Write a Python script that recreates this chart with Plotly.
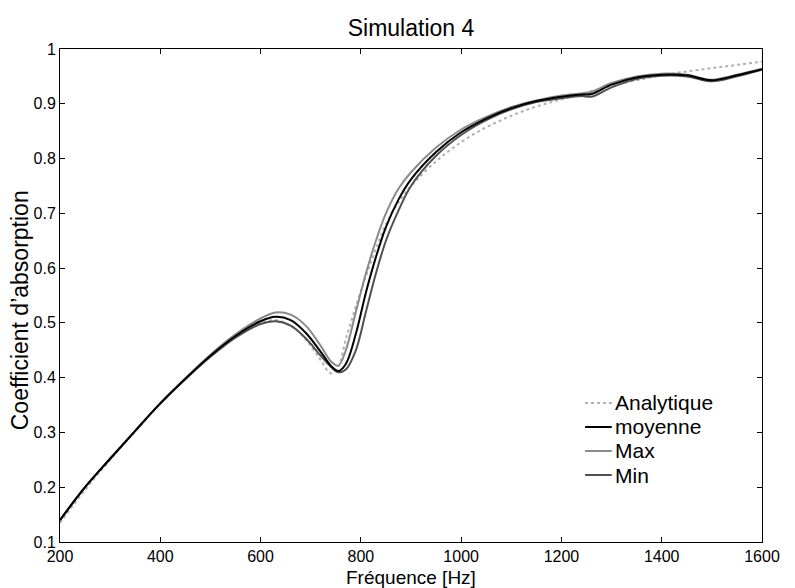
import plotly.graph_objects as go

freq = [200, 250, 300, 350, 400, 450, 500, 550, 600, 630, 660, 690, 720, 740, 755, 770, 790, 810, 830, 850,
        875, 900, 950, 1000, 1050, 1100, 1150, 1200, 1240, 1260, 1300, 1350, 1400, 1450, 1500, 1550, 1600]

analytique = [0.135, 0.195, 0.250, 0.302, 0.352, 0.398, 0.440, 0.475, 0.500, 0.505, 0.495, 0.470, 0.432, 0.408,
              0.420, 0.470, 0.530, 0.585, 0.635, 0.680, 0.720, 0.750, 0.795, 0.830, 0.857, 0.878, 0.895, 0.908,
              0.918, 0.923, 0.933, 0.943, 0.952, 0.959, 0.965, 0.971, 0.977]

moyenne = [0.140, 0.200, 0.252, 0.303, 0.353, 0.398, 0.440, 0.476, 0.503, 0.511, 0.505, 0.482, 0.447, 0.422,
           0.412, 0.425, 0.480, 0.555, 0.620, 0.675, 0.725, 0.762, 0.812, 0.848, 0.873, 0.892, 0.905, 0.913,
           0.917, 0.918, 0.935, 0.948, 0.953, 0.952, 0.943, 0.952, 0.963]

maxi = [0.140, 0.200, 0.252, 0.303, 0.353, 0.399, 0.442, 0.479, 0.508, 0.519, 0.515, 0.495, 0.458, 0.430,
        0.422, 0.450, 0.520, 0.590, 0.650, 0.700, 0.745, 0.775, 0.820, 0.853, 0.876, 0.894, 0.906, 0.915,
        0.919, 0.922, 0.938, 0.950, 0.955, 0.953, 0.944, 0.953, 0.964]

mini = [0.140, 0.200, 0.252, 0.303, 0.353, 0.397, 0.438, 0.473, 0.498, 0.503, 0.495, 0.472, 0.440, 0.420,
        0.410, 0.415, 0.450, 0.520, 0.590, 0.650, 0.705, 0.750, 0.805, 0.843, 0.870, 0.890, 0.903, 0.910,
        0.914, 0.913, 0.930, 0.945, 0.951, 0.950, 0.941, 0.950, 0.962]

x_ticks = [200, 400, 600, 800, 1000, 1200, 1400, 1600]
y_ticks = [0.1, 0.2, 0.3, 0.4, 0.5, 0.6, 0.7, 0.8, 0.9, 1]
y_labels = ["0.1", "0.2", "0.3", "0.4", "0.5", "0.6", "0.7", "0.8", "0.9", "1"]

series_names = ["Analytique", "moyenne", "Max", "Min"]
series_data = {"Analytique": analytique, "moyenne": moyenne, "Max": maxi, "Min": mini}
series_style = {
    "Analytique": dict(color="#b0b0b0", width=2, dash="dot"),
    "moyenne": dict(color="#000000", width=2, dash="solid"),
    "Max": dict(color="#8a8a8a", width=2, dash="solid"),
    "Min": dict(color="#505050", width=2, dash="solid"),
}
draw_order = ["Analytique", "Max", "Min", "moyenne"]

fig = go.Figure()
for name in draw_order:
    fig.add_trace(go.Scatter(x=freq, y=series_data[name], name=name, mode="lines", line_shape="spline",
                             line=series_style[name], showlegend=False))

# legend box drawn in paper coordinates (MATLAB-style compact legend)
leg_x0, leg_x1, leg_tx = 0.748, 0.786, 0.788
leg_y_top, leg_dy = 0.282, 0.0487
for i, name in enumerate(series_names):
    yy = leg_y_top - i * leg_dy
    fig.add_shape(type="line", xref="paper", yref="paper", x0=leg_x0, x1=leg_x1, y0=yy, y1=yy,
                  line=series_style[name])
    fig.add_annotation(xref="paper", yref="paper", x=leg_tx, y=yy, text=name, showarrow=False,
                       xanchor="left", yanchor="middle", font=dict(size=21, color="black"))

# axis titles
fig.add_annotation(xref="paper", yref="paper", x=0.5, y=-0.0953, text="Fréquence [Hz]", showarrow=False,
                   xanchor="center", yanchor="bottom", borderpad=0, font=dict(size=19, color="black"))
fig.add_annotation(xref="paper", yref="paper", x=-0.057, y=0.47, text="Coefficient d’absorption",
                   showarrow=False, textangle=-90, xanchor="center", yanchor="middle",
                   font=dict(size=23, color="black"))

axis_common = dict(showline=True, linecolor="black", linewidth=1, mirror="ticks", ticks="inside",
                   ticklen=5, tickcolor="black", showgrid=False, zeroline=False,
                   tickfont=dict(size=16, color="black"))

fig.update_layout(
    width=795, height=588,
    paper_bgcolor="white", plot_bgcolor="white",
    font=dict(family="Liberation Sans, Arial, sans-serif", color="black"),
    margin=dict(l=60, r=33, t=49, b=46, autoexpand=False),
    title=dict(text="Simulation 4", x=0.517, xanchor="center", y=0.952, yanchor="middle",
               font=dict(size=23, color="black")),
    xaxis=dict(range=[200, 1600], tickvals=x_ticks, ticktext=[str(v) for v in x_ticks], **axis_common),
    yaxis=dict(range=[0.1, 1], tickvals=y_ticks, ticktext=y_labels, **axis_common),
    showlegend=False,
)

fig.write_html("out.html", config={"displayModeBar": False},
               post_script="document.body.style.margin='0';document.body.style.padding='0';")
